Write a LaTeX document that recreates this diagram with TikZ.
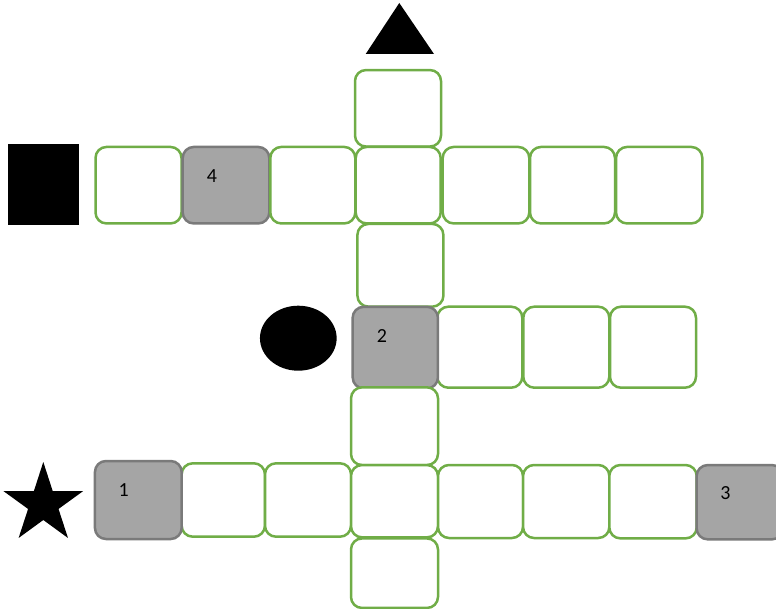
\documentclass[tikz,border=0pt]{standalone}
\usepackage{fontspec}
\setmainfont{Carlito}
\usetikzlibrary{shapes.geometric,calc}
\definecolor{cellgreen}{HTML}{70AD47}
\definecolor{cellgray}{HTML}{A5A5A5}
\definecolor{cellgrayline}{HTML}{7A7A7A}
\tikzset{
  cell/.style={draw=cellgreen, line width=2.5pt, rounded corners=11pt, fill=white, inner sep=0pt},
  graycell/.style={draw=cellgrayline, line width=2.5pt, rounded corners=11pt, fill=cellgray, inner sep=0pt},
  numlabel/.style={inner sep=0pt, font=\fontsize{20}{24}\selectfont},
}
\newcommand{\cellbox}[6]{% style, name, cx, cy, w, h
  \node[#1, minimum width=#5pt, minimum height=#6pt] (#2) at (#3,#4) {};}
\begin{document}
\begin{tikzpicture}[x=1pt,y=-1pt]
\useasboundingbox (0,0) rectangle (776,609);
\clip (0,0) rectangle (776,609);
% symbols
\coordinate (tri) at (399.3,29);
\fill[black] (399.3,3) -- (434,54) -- (365.7,54) -- cycle;
\node[fill=black, minimum width=71pt, minimum height=80.7pt, inner sep=0pt] (sq) at (43.2,184.7) {};
\node[fill=black, ellipse, minimum width=76.7pt, minimum height=65pt, inner sep=0pt] (circ) at (298.3,338.2) {};
\coordinate (st) at (43.3,504);
\fill[black] ($(st)+(-90:42)$)
  \foreach \k in {0,...,4} { -- ($(st)+(-90+72*\k:42)$) -- ($(st)+(-54+72*\k:16)$) } -- cycle;
% top column
\cellbox{cell}{t1}{398}{108.3}{86}{76.5}
% row 1
\cellbox{cell}{r1a}{138.5}{185.2}{86}{76.5}
\cellbox{graycell}{r1b}{226}{185.2}{86.6}{76.5}
\cellbox{cell}{r1c}{312.8}{185.2}{85}{76.5}
\cellbox{cell}{r1d}{398.2}{185.2}{85}{76.5}
\cellbox{cell}{r1e}{486}{185.2}{86.6}{76.5}
\cellbox{cell}{r1f}{572.5}{185.2}{85}{76.5}
\cellbox{cell}{r1g}{659.2}{185.2}{86.3}{76.5}
% below centre
\cellbox{cell}{c1}{400.4}{265.3}{86}{82.7}
% row 2
\cellbox{cell}{r2b}{479.8}{347.2}{85}{81}
\cellbox{cell}{r2c}{566.3}{347.2}{86}{81}
\cellbox{cell}{r2d}{653}{347.2}{86}{81}
\cellbox{graycell}{r2a}{395.3}{347.6}{85.3}{81.6}
% below gray 2
\cellbox{cell}{c2}{394.5}{426.2}{87}{77.7}
% row 3
\cellbox{cell}{r3b}{223.3}{500}{83.3}{73.4}
\cellbox{cell}{r3c}{308}{500}{86}{73.4}
\cellbox{cell}{r3d}{394.5}{501.2}{87}{72.3}
\cellbox{cell}{r3e}{480.5}{501.5}{85}{73}
\cellbox{cell}{r3f}{566.2}{501.5}{86.3}{73}
\cellbox{cell}{r3g}{653}{501.7}{87.4}{73.3}
\cellbox{graycell}{r3a}{138.3}{500}{86.7}{78}
\cellbox{graycell}{r3h}{739.8}{502.2}{86.3}{74.3}
% bottom
\cellbox{cell}{c3}{394.5}{573.2}{87}{69.5}
% labels
\node[numlabel] (l4) at ($(r1b.north west)+(30.5,30)$) {4};
\node[numlabel] (l2) at ($(r2a.north west)+(30.5,30)$) {2};
\node[numlabel] (l1) at ($(r3a.north west)+(30,30)$) {1};
\node[numlabel] (l3) at ($(r3h.north west)+(30,29.5)$) {3};
\end{tikzpicture}
\end{document}
